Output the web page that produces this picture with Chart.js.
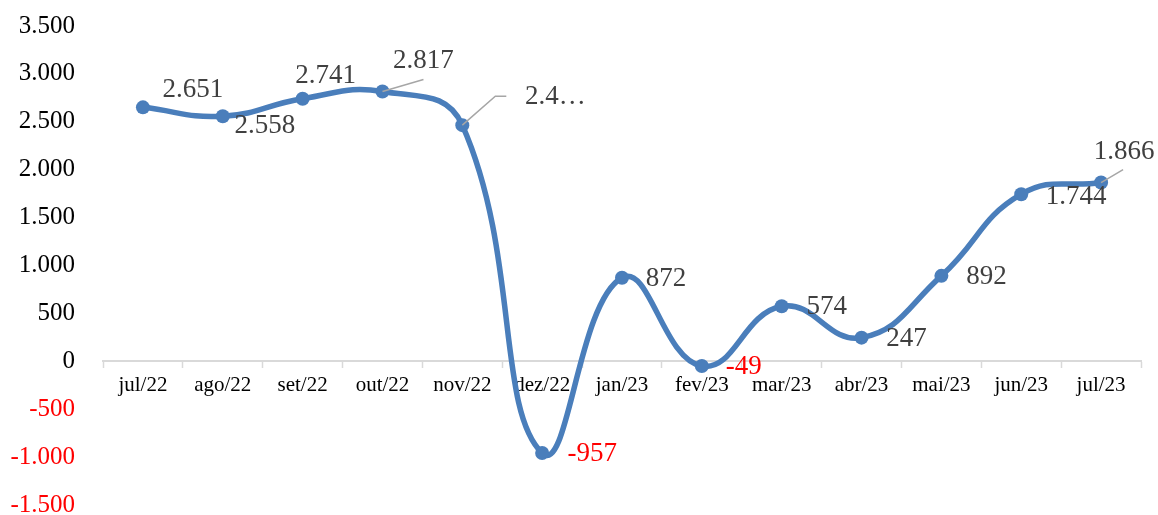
<!DOCTYPE html>
<html>
<head>
<meta charset="utf-8">
<script src="https://cdn.jsdelivr.net/npm/chart.js@4/dist/chart.umd.min.js"></script>
<style>
    html, body { margin: 0; padding: 0; background: #fff; }
    #wrap { width: 1158px; height: 515px; }
</style>
</head>
<body>
<div id="wrap"><canvas id="canva"></canvas></div>
<script>
const months = ['jul/22', 'ago/22', 'set/22', 'out/22', 'nov/22', 'dez/22', 'jan/23',
    'fev/23', 'mar/23', 'abr/23', 'mai/23', 'jun/23', 'jul/23'];
const balance = [2651, 2558, 2741, 2817, 2465, -957, 872, -49, 574, 247, 892, 1744, 1866];
const valueLabels = ['2.651', '2.558', '2.741', '2.817', '2.4…', '-957', '872', '-49',
    '574', '247', '892', '1.744', '1.866'];
const yMin = -1500;
const yMax = 3500;
const yStep = 500;

const SERIF = '"Liberation Serif", "Times New Roman", serif';
const RED = '#FF0000';
const BLUE = '#4A7EBB';

function fmt(v) {
    const s = String(Math.abs(v)).replace(/\B(?=(\d{3})+(?!\d))/g, '.');
    return (v < 0 ? '-' : '') + s;
}

// draws the value labels next to the points, with leader lines where needed
const pointLabels = {
    id: 'pointLabels',
    afterDatasetsDraw(chart, args, opts) {
        const ctx = chart.ctx;
        const meta = chart.getDatasetMeta(0);
        ctx.save();
        ctx.font = opts.size + 'px ' + SERIF;
        ctx.textAlign = 'center';
        ctx.textBaseline = 'middle';
        meta.data.forEach((pt, i) => {
            const off = opts.offsets[i];
            const lead = opts.leaders[i];
            if (lead) {
                ctx.strokeStyle = '#A6A6A6';
                ctx.lineWidth = 1.5;
                ctx.beginPath();
                ctx.moveTo(pt.x, pt.y);
                lead.forEach(([dx, dy]) => ctx.lineTo(pt.x + dx, pt.y + dy));
                ctx.stroke();
            }
            ctx.fillStyle = balance[i] < 0 ? RED : '#404040';
            ctx.fillText(valueLabels[i], pt.x + off[0], pt.y + off[1]);
        });
        ctx.restore();
    },
};

const canvas = document.querySelector('#canva').getContext('2d');
new Chart(canvas, {
    type: 'line',
    data: {
        labels: months,
        datasets: [
            {
                data: balance,
                borderColor: BLUE,
                backgroundColor: BLUE,
                borderWidth: 5.5,
                tension: 0.45,
                pointRadius: 7,
                pointBorderWidth: 0,
                pointBackgroundColor: BLUE,
            },
        ],
    },
    options: {
        responsive: true,
        maintainAspectRatio: false,
        animation: false,
        layout: {
            padding: { left: 0, right: 17, top: 26, bottom: 10 },
        },
        scales: {
            x: {
                type: 'category',
                position: { y: 0 },
                offset: true,
                grid: {
                    display: true,
                    offset: true,
                    drawOnChartArea: false,
                    drawTicks: true,
                    tickLength: 6,
                    tickWidth: 1.5,
                    tickColor: '#D9D9D9',
                },
                border: { display: true, color: '#D9D9D9', width: 2 },
                ticks: {
                    color: '#000',
                    padding: 6,
                    maxRotation: 0,
                    autoSkip: false,
                    font: { family: SERIF, size: 21 },
                },
                afterFit(scale) {
                    scale.paddingLeft = 0;
                    scale.paddingRight = 0;
                },
            },
            y: {
                min: yMin,
                max: yMax,
                grid: { display: false, drawTicks: false },
                border: { display: false },
                ticks: {
                    stepSize: yStep,
                    padding: 28,
                    font: { family: SERIF, size: 25 },
                    color: (c) => (c.tick && c.tick.value < 0 ? RED : '#000'),
                    callback: (v) => fmt(v),
                },
                afterFit(scale) {
                    scale.width = 103;
                    scale.paddingTop = 0;
                    scale.paddingBottom = 0;
                },
            },
        },
        plugins: {
            legend: { display: false },
            title: { display: false },
            tooltip: { enabled: false },
            pointLabels: {
                size: 27,
                offsets: [
                    [50, -17], [42, 10], [23, -23], [41, -31], [93, -28], [50, 1], [44, 1],
                    [42, 1], [45, 1], [45, 1], [45, 1], [55, 3], [23, -31],
                ],
                leaders: [
                    null, null, null, [[41, -12]], [[33, -29], [44, -29]], null, null,
                    null, null, null, null, null, [[22, -13]],
                ],
            },
        },
    },
    plugins: [pointLabels],
});
</script>
</body>
</html>
